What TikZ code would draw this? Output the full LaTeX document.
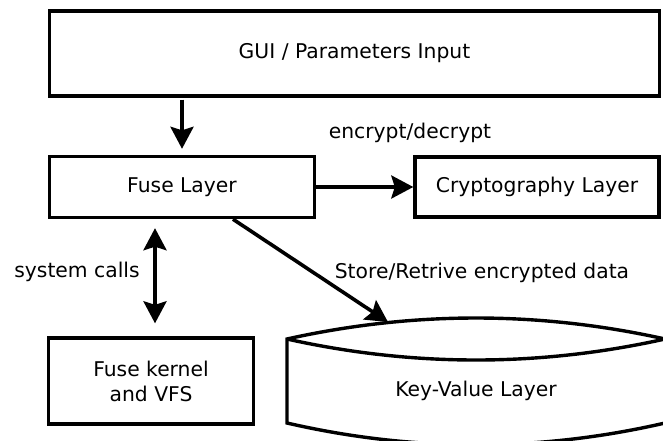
\documentclass[tikz,border=0pt]{standalone}
\usepackage{fontspec}
\setmainfont{DejaVu Sans}
\usetikzlibrary{arrows.meta}
\tikzset{
  box/.style={draw, line width=3.4pt, fill=white, inner sep=0pt, align=center},
  lbl/.style={inner sep=0pt, align=center},
  tipa/.tip={Stealth[length=22pt, width=23pt, inset=3.5pt]},
  arr/.style={line width=3.6pt, -tipa},
  darr/.style={line width=3.6pt, tipa-tipa},
}
\begin{document}
\begin{tikzpicture}[x=1pt, y=-1pt, font=\fontsize{20.3}{25}\selectfont]
\useasboundingbox (0,0) rectangle (663,440);
\clip (0,0) rectangle (663,440);
\fill[white] (0,0) rectangle (663,440);

\node[box, minimum width=610pt, minimum height=85pt] (gui) at (354.5,53.5) {GUI / Parameters Input};
\node[box, minimum width=265pt, minimum height=61pt] (fuse) at (182,187) {Fuse Layer};
\node[box, minimum width=244pt, minimum height=60pt] (crypto) at (537,187) {Cryptography Layer};
\node[box, minimum width=205pt, minimum height=86pt] (kernel) at (151,381) {Fuse kernel\\and VFS};

% cylinder
\draw[line width=3.4pt, fill=white, line join=miter]
  (287,339) .. controls (413,311) and (539,311) .. (665,339)
  -- (665,423) .. controls (539,452) and (413,452) .. (287,423) -- cycle;
\draw[line width=3.4pt] (287,339) .. controls (413,367) and (539,367) .. (665,339);
\node[lbl] (kv) at (476,391) {Key-Value Layer};
\coordinate (kvtop) at (388,322);

\node[lbl] (encl) at (410,133) {encrypt/decrypt};
\node[lbl] (sysl) at (77,272) {system calls};
\node[lbl] (storel) at (482,273) {Store/Retrive encrypted data};

\draw[arr, shorten <=2pt, shorten >=6pt] (fuse.north |- gui.south) -- (fuse.north);
\draw[arr] (fuse.east) -- (crypto.west);
\draw[darr, shorten <=9pt, shorten >=13pt] ([xshift=-27pt]fuse.south) -- ([xshift=4pt]kernel.north);
\draw[arr] ([xshift=51pt]fuse.south) -- (kvtop);
\end{tikzpicture}
\end{document}
